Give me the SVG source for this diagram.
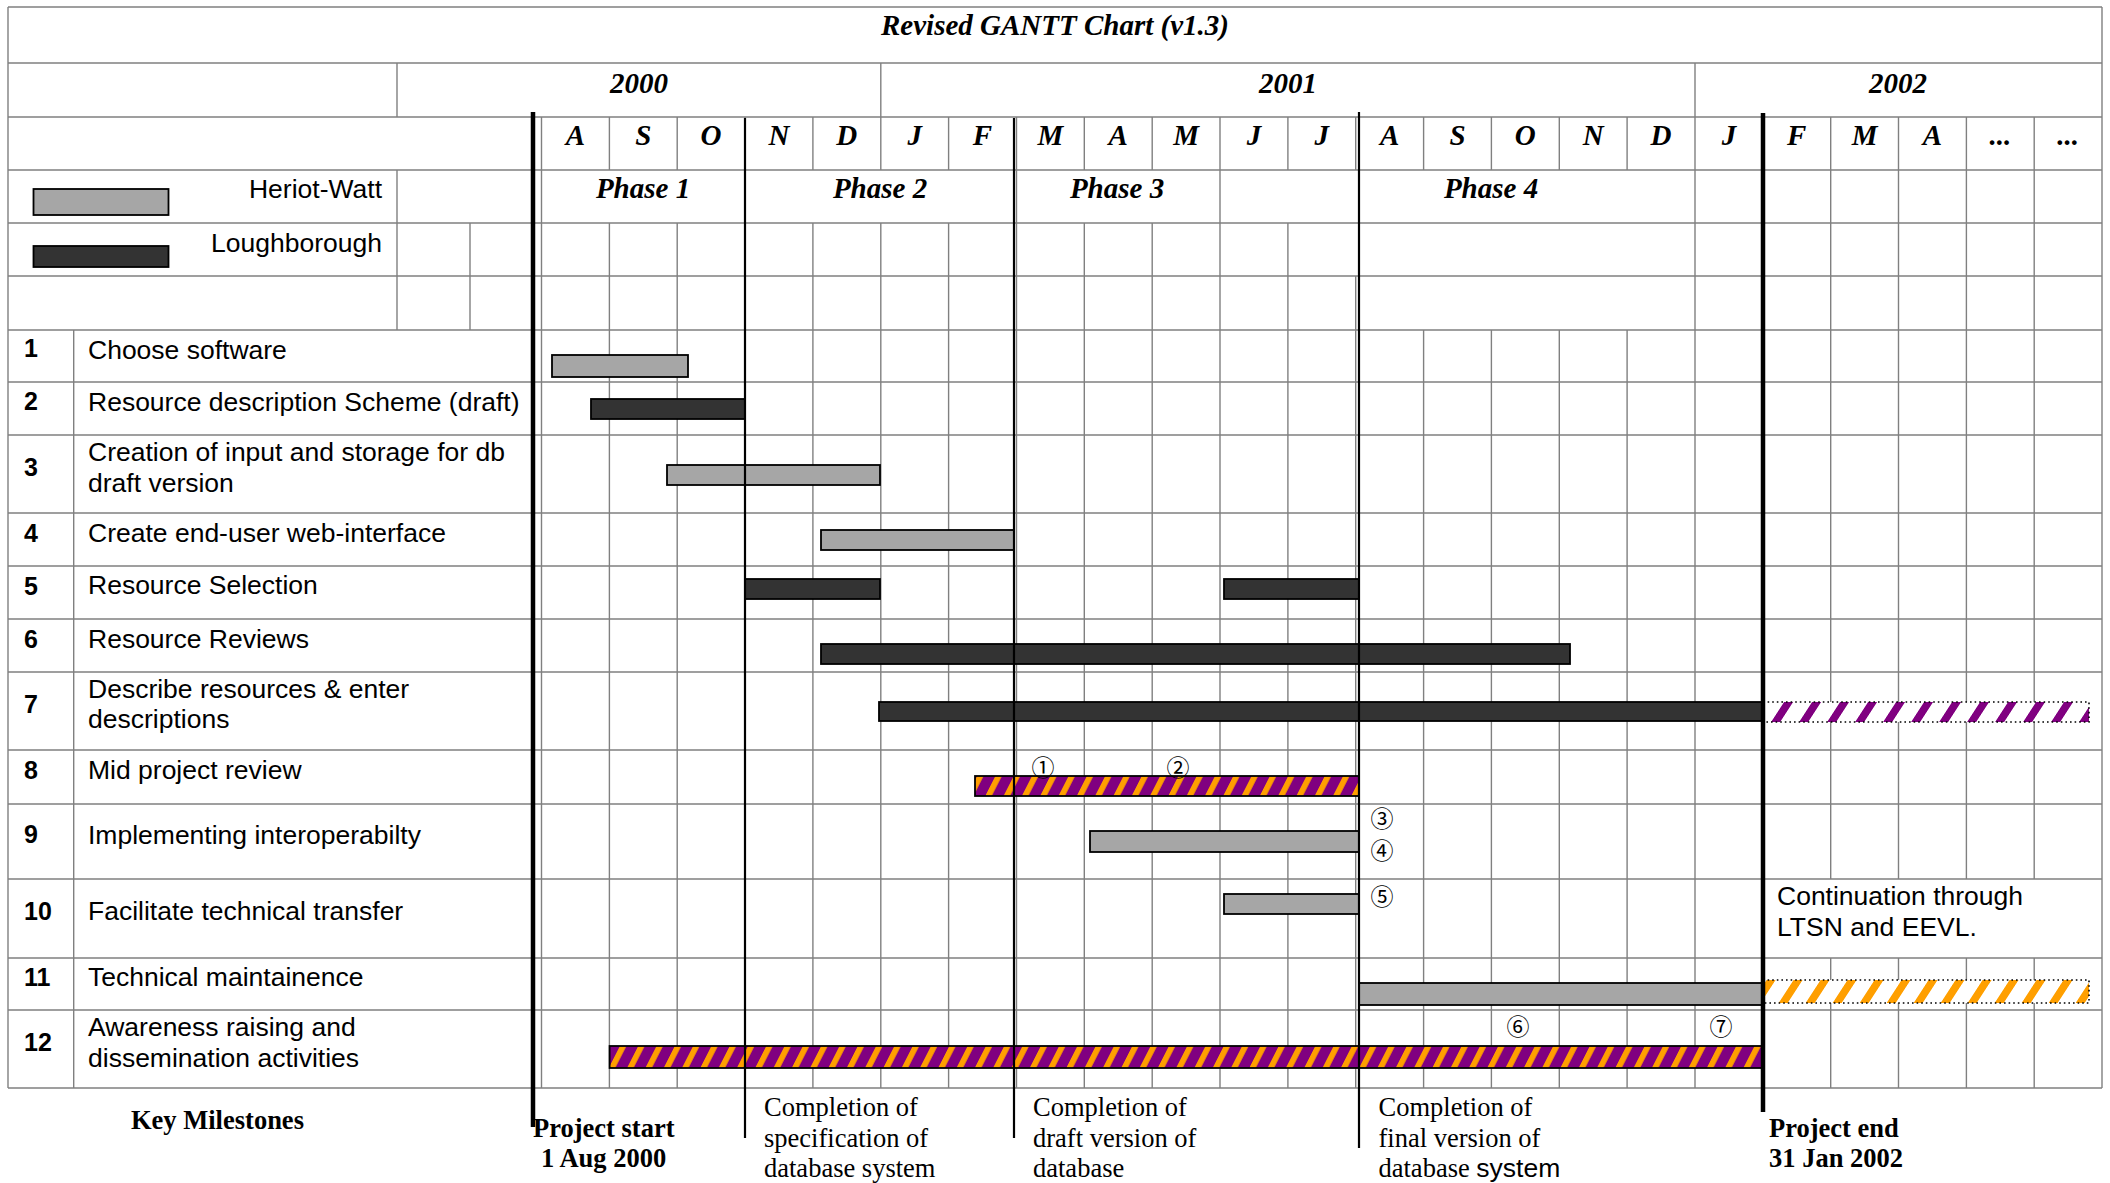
<svg xmlns="http://www.w3.org/2000/svg" width="2110" height="1183" viewBox="0 0 2110 1183">
<style>
.grid{stroke:#808080;stroke-width:1.4;fill:none}
.phase{stroke:#000;stroke-width:2.2;fill:none}
.thick{stroke:#000;stroke-width:4.5;fill:none}
.hw{fill:#a6a6a6;stroke:#000;stroke-width:1.8}
.lb{fill:#333333;stroke:#000;stroke-width:1.8}
.po{fill:url(#po);stroke:#000;stroke-width:1.8}
.cont{stroke:#000;stroke-width:1.6;stroke-dasharray:1.6 3}
.hdr{font-family:"Liberation Serif","Times New Roman",serif;font-weight:bold;font-style:italic;font-size:29px;text-anchor:middle;fill:#000}
.lbl{font-family:"Liberation Sans",Arial,sans-serif;font-size:26.5px;fill:#000}
.num{font-family:"Liberation Sans",Arial,sans-serif;font-size:25px;font-weight:bold;fill:#000}
.ms{font-family:"Liberation Serif","Times New Roman",serif;font-size:26.5px;fill:#000}
.msb{font-family:"Liberation Serif","Times New Roman",serif;font-size:26.5px;font-weight:bold;fill:#000}
.cd{font-family:"Noto Sans CJK JP","DejaVu Sans",sans-serif;font-size:23px;text-anchor:middle;dominant-baseline:central;fill:#000}
</style>
<defs>
<pattern id="po" patternUnits="userSpaceOnUse" width="18.3" height="20" patternTransform="skewX(-27)">
<rect width="18.3" height="20" fill="#800080"/>
<rect x="0" width="6.5" height="20" fill="#ff9f00"/>
</pattern>
<pattern id="pw" patternUnits="userSpaceOnUse" width="28" height="20" patternTransform="skewX(-33)">
<rect width="28" height="20" fill="#fff"/>
<rect x="0" width="9" height="20" fill="#800080"/>
</pattern>
<pattern id="ow" patternUnits="userSpaceOnUse" width="27" height="20" patternTransform="skewX(-33)">
<rect width="27" height="20" fill="#fff"/>
<rect x="0" width="9" height="20" fill="#ff9f00"/>
</pattern>
</defs>
<rect width="2110" height="1183" fill="#fff"/>

<g id="grid" class="grid">
<path d="M8 7H2102M8 63H2102M8 117H2102M8 170H2102M8 223H2102M8 276H2102M8 330H2102M8 382H2102M8 435H2102M8 513H2102M8 566H2102M8 619H2102M8 672H2102M8 750H2102M8 804H2102M8 879H2102M8 958H2102M8 1010H2102M8 1088H2102"/>
<path d="M8 7V1088M2102 7V1088M397 63V117M397 170V330M470 223V330M73.7 330V1088"/>
<path d="M541.5 117V1088M745.1 117V1088M1016.5 117V1088M1220 117V1088M1762.8 117V1088M1695 63V1088M880.8 63V117"/>
<path d="M609.4 117V170M609.4 223V1088M677.2 117V170M677.2 223V1088M812.9 117V170M812.9 223V1088M880.8 117V170M880.8 223V1088M948.6 117V170M948.6 223V1088M1084.3 117V170M1084.3 223V1088M1152.2 117V170M1152.2 223V1088M1287.9 117V170M1287.9 223V1088M1355.7 117V170M1355.7 276V1088"/>
<path d="M1423.6 117V170M1423.6 330V1088M1491.4 117V170M1491.4 330V1088M1559.3 117V170M1559.3 330V1088M1627.1 117V170M1627.1 330V1088"/>
<path d="M1830.7 117V879M1830.7 958V1088M1898.5 117V879M1898.5 958V1088M1966.4 117V879M1966.4 958V1088M2034.2 117V879M2034.2 958V1088"/>
</g>

<g id="header">
<text class="hdr" x="1055" y="35">Revised GANTT Chart (v1.3)</text>
<text class="hdr" x="639" y="93">2000</text>
<text class="hdr" x="1288" y="93">2001</text>
<text class="hdr" x="1898" y="93">2002</text>
<g id="months">
<text class="hdr" x="575.4" y="145">A</text>
<text class="hdr" x="643.3" y="145">S</text>
<text class="hdr" x="711.1" y="145">O</text>
<text class="hdr" x="779" y="145">N</text>
<text class="hdr" x="846.8" y="145">D</text>
<text class="hdr" x="914.7" y="145">J</text>
<text class="hdr" x="982.5" y="145">F</text>
<text class="hdr" x="1050.4" y="145">M</text>
<text class="hdr" x="1118.2" y="145">A</text>
<text class="hdr" x="1186.1" y="145">M</text>
<text class="hdr" x="1253.9" y="145">J</text>
<text class="hdr" x="1321.8" y="145">J</text>
<text class="hdr" x="1389.6" y="145">A</text>
<text class="hdr" x="1457.5" y="145">S</text>
<text class="hdr" x="1525.3" y="145">O</text>
<text class="hdr" x="1593.2" y="145">N</text>
<text class="hdr" x="1661" y="145">D</text>
<text class="hdr" x="1728.9" y="145">J</text>
<text class="hdr" x="1796.7" y="145">F</text>
<text class="hdr" x="1864.6" y="145">M</text>
<text class="hdr" x="1932.4" y="145">A</text>
<text class="hdr" x="2000.3" y="145">...</text>
<text class="hdr" x="2068.1" y="145">...</text>
</g>
<text class="hdr" x="643" y="198">Phase 1</text>
<text class="hdr" x="880" y="198">Phase 2</text>
<text class="hdr" x="1117" y="198">Phase 3</text>
<text class="hdr" x="1491" y="198">Phase 4</text>
</g>

<g id="legend">
<rect class="hw" x="33.5" y="189" width="135" height="26"/>
<text class="lbl" x="382" y="198" text-anchor="end">Heriot-Watt</text>
<rect class="lb" x="33.5" y="246" width="135" height="21"/>
<text class="lbl" x="382" y="252" text-anchor="end">Loughborough</text>
</g>

<g id="tasks">
<text class="num" x="24" y="357">1</text><text class="lbl" x="88" y="359">Choose software</text>
<text class="num" x="24" y="410">2</text><text class="lbl" x="88" y="411">Resource description Scheme (draft)</text>
<text class="num" x="24" y="476">3</text><text class="lbl" x="88" y="461">Creation of input and storage for db</text><text class="lbl" x="88" y="492">draft version</text>
<text class="num" x="24" y="542">4</text><text class="lbl" x="88" y="542">Create end-user web-interface</text>
<text class="num" x="24" y="595">5</text><text class="lbl" x="88" y="594">Resource Selection</text>
<text class="num" x="24" y="648">6</text><text class="lbl" x="88" y="648">Resource Reviews</text>
<text class="num" x="24" y="713">7</text><text class="lbl" x="88" y="698">Describe resources &amp; enter</text><text class="lbl" x="88" y="728">descriptions</text>
<text class="num" x="24" y="779">8</text><text class="lbl" x="88" y="779">Mid project review</text>
<text class="num" x="24" y="843">9</text><text class="lbl" x="88" y="844">Implementing interoperabilty</text>
<text class="num" x="24" y="920">10</text><text class="lbl" x="88" y="920">Facilitate technical transfer</text>
<text class="num" x="24" y="986">11</text><text class="lbl" x="88" y="986">Technical maintainence</text>
<text class="num" x="24" y="1051">12</text><text class="lbl" x="88" y="1036">Awareness raising and</text><text class="lbl" x="88" y="1067">dissemination activities</text>
</g>

<g id="bars">
<rect class="hw" x="552" y="355" width="136" height="22"/>
<rect class="lb" x="591" y="399" width="154" height="20"/>
<rect class="hw" x="667" y="465" width="213" height="20"/>
<rect class="hw" x="821" y="530" width="193" height="20"/>
<rect class="lb" x="745" y="579" width="135" height="20"/>
<rect class="lb" x="1224" y="579" width="135" height="20"/>
<rect class="lb" x="821" y="644" width="749" height="20"/>
<rect class="lb" x="879" y="702" width="884" height="19"/>
<rect x="1763" y="702" width="326" height="20" fill="url(#pw)"/>
<rect class="cont" x="1763" y="702" width="326" height="20" fill="none"/>
<rect class="po" x="975" y="776" width="384" height="20"/>
<rect class="hw" x="1090" y="831" width="269" height="21"/>
<rect class="hw" x="1224" y="894" width="135" height="20"/>
<rect class="hw" x="1359" y="983" width="404" height="22"/>
<rect x="1763" y="980" width="326" height="23" fill="url(#ow)"/>
<rect class="cont" x="1763" y="980" width="326" height="23" fill="none"/>
<rect class="po" x="609.6" y="1046" width="1153.4" height="22"/>
</g>

<g id="markers">
<text class="cd" x="1043" y="766">①</text>
<text class="cd" x="1178" y="766">②</text>
<text class="cd" x="1382" y="817">③</text>
<text class="cd" x="1382" y="849">④</text>
<text class="cd" x="1382" y="894.5">⑤</text>
<text class="cd" x="1518" y="1025">⑥</text>
<text class="cd" x="1721" y="1025">⑦</text>
</g>

<g id="milestone-lines">
<path class="phase" d="M745 118V1138M1014 118V1138M1359 112V1148"/>
<path class="thick" d="M533 112V1127M1763 113V1112"/>
</g>

<g id="notes">
<text class="lbl" x="1777" y="905">Continuation through</text>
<text class="lbl" x="1777" y="936">LTSN and EEVL.</text>
</g>

<g id="milestones">
<text class="msb" x="131" y="1129">Key Milestones</text>
<text class="msb" x="533" y="1137">Project start</text>
<text class="msb" x="541" y="1167">1 Aug 2000</text>
<text class="ms" x="764" y="1116">Completion of</text>
<text class="ms" x="764" y="1147">specification of</text>
<text class="ms" x="764" y="1177">database system</text>
<text class="ms" x="1033" y="1116">Completion of</text>
<text class="ms" x="1033" y="1147">draft version of</text>
<text class="ms" x="1033" y="1177">database</text>
<text class="ms" x="1378.5" y="1116">Completion of</text>
<text class="ms" x="1378.5" y="1147">final version of</text>
<text class="ms" x="1378.5" y="1177">database <tspan font-family="Liberation Sans, Arial, sans-serif">system</tspan></text>
<text class="msb" x="1769" y="1137">Project end</text>
<text class="msb" x="1769" y="1167">31 Jan 2002</text>
</g>
</svg>
